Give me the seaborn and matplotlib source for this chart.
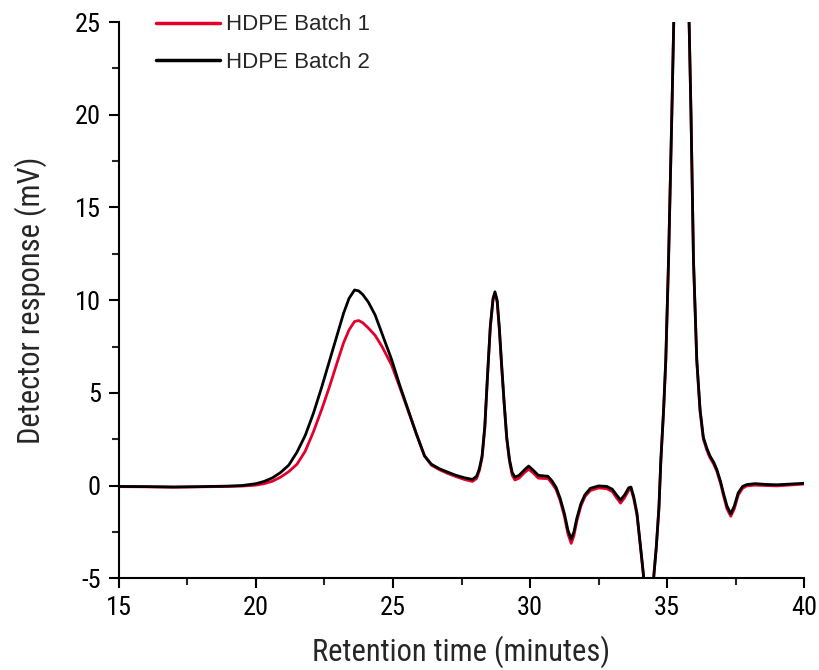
""" HDPE batch comparison chromatogram """

import numpy as np
import pandas as pd
import matplotlib
matplotlib.use("Agg")
import matplotlib.pyplot as plt
from matplotlib import font_manager
from matplotlib.ticker import MultipleLocator
import seaborn as sns

# retention time (minutes)
time_min = [
    15.0, 16.0, 17.0, 18.0, 19.0, 19.5, 20.0, 20.3, 20.6, 20.9,
    21.2, 21.5, 21.8, 22.1, 22.4, 22.7, 23.0, 23.2, 23.4, 23.6,
    23.75, 23.9, 24.1, 24.35, 24.6, 24.95, 25.25, 25.55, 25.85, 26.15,
    26.4, 26.7, 27.0, 27.3, 27.6, 27.9, 28.05, 28.15, 28.25, 28.35,
    28.45, 28.55, 28.65, 28.72, 28.8, 28.88, 28.96, 29.05, 29.15, 29.25,
    29.35, 29.45, 29.6, 29.8, 29.95, 30.1, 30.3, 30.5, 30.65, 30.8,
    30.95, 31.1, 31.25, 31.38, 31.5, 31.6, 31.7, 31.85, 32.0, 32.2,
    32.5, 32.8, 33.0, 33.15, 33.3, 33.45, 33.6, 33.68, 33.78, 33.9,
    34.0, 34.1, 34.2, 34.3, 34.4, 34.5, 34.6, 34.7, 34.77, 34.87,
    34.95, 35.05, 35.17, 35.24, 35.32, 35.45, 35.55, 35.68, 35.8, 35.87,
    35.96, 36.08, 36.2, 36.32, 36.45, 36.56, 36.7, 36.81, 36.95, 37.05,
    37.18, 37.32, 37.45, 37.59, 37.75, 37.9, 38.2, 38.6, 39.0, 39.5,
    40.0,
]

batch1 = [
    -0.06, -0.07, -0.09, -0.07, -0.05, -0.03, 0.02, 0.1, 0.23, 0.45,
    0.75, 1.15, 1.85, 2.9, 4.1, 5.4, 6.8, 7.7, 8.4, 8.85,
    8.9, 8.78, 8.5, 8.1, 7.5, 6.5, 5.3, 4.05, 2.8, 1.6,
    1.1, 0.85, 0.65, 0.48, 0.33, 0.22, 0.38, 0.8, 1.5, 3.1,
    5.9, 8.5, 10.0, 10.35, 9.9, 8.4, 6.5, 4.5, 2.5, 1.3,
    0.55, 0.3, 0.4, 0.7, 0.88, 0.7, 0.4, 0.38, 0.38, 0.12,
    -0.22, -0.82, -1.65, -2.6, -3.12, -2.7, -1.95, -1.12, -0.6, -0.27,
    -0.13, -0.17, -0.33, -0.65, -0.95, -0.65, -0.25, -0.18, -0.7, -1.6,
    -2.95, -4.35, -5.8, -6.6, -6.3, -5.1, -3.4, -1.2, 1.3, 4.0,
    6.7, 12.0, 20.0, 25.0, 30.0, 36.0, 36.0, 30.0, 25.0, 20.0,
    12.1, 6.7, 4.0, 2.5, 1.9, 1.5, 1.15, 0.78, 0.1, -0.52,
    -1.25, -1.66, -1.25, -0.52, -0.15, -0.02, 0.02, 0.0, -0.02, 0.03,
    0.08,
]

batch2 = [
    -0.05, -0.06, -0.08, -0.06, -0.03, 0.0, 0.1, 0.22, 0.41, 0.7,
    1.1, 1.8, 2.7, 3.9, 5.3, 6.8, 8.3, 9.3, 10.1, 10.55,
    10.5, 10.3, 9.9, 9.2, 8.2, 6.8, 5.4, 4.1, 2.8, 1.6,
    1.15, 0.9, 0.72, 0.55, 0.42, 0.33, 0.5, 0.9, 1.6, 3.2,
    6.0, 8.6, 10.1, 10.45, 10.0, 8.5, 6.6, 4.6, 2.6, 1.4,
    0.7, 0.45, 0.55, 0.85, 1.05, 0.85, 0.55, 0.52, 0.5, 0.25,
    -0.1, -0.7, -1.5, -2.4, -2.88, -2.5, -1.8, -1.0, -0.5, -0.15,
    -0.02, -0.05, -0.2, -0.5, -0.78, -0.5, -0.12, -0.08, -0.6, -1.5,
    -2.9, -4.3, -5.8, -6.6, -6.3, -5.1, -3.4, -1.2, 1.4, 4.1,
    6.8, 12.2, 20.0, 25.0, 30.0, 36.0, 36.0, 30.0, 25.0, 20.0,
    12.2, 6.8, 4.1, 2.6, 2.0, 1.6, 1.25, 0.87, 0.2, -0.4,
    -1.1, -1.52, -1.1, -0.4, -0.05, 0.05, 0.1, 0.06, 0.04, 0.08,
    0.12,
]

labels = ['HDPE Batch 1', 'HDPE Batch 2']
batch1_color = '#e4002b'
batch2_color = '#000000'

# look for a condensed face for the axes text
axis_family, axis_stretch = 'DejaVu Sans', 'normal'
for f in font_manager.fontManager.ttflist:
    if f.name in ('Liberation Sans Narrow', 'Roboto Condensed'):
        axis_family, axis_stretch = f.name, 'normal'
        break
else:
    for fam in ['Roboto', 'Noto Sans', 'Open Sans', 'DejaVu Sans']:
        faces = [f for f in font_manager.fontManager.ttflist
                 if f.name == fam and f.style == 'normal'
                 and str(f.stretch) in ('condensed', 'semi-condensed', 'extra-condensed')]
        if faces:
            axis_family, axis_stretch = fam, faces[0].stretch
            break

sns.set_style('ticks')
plt.rcParams['font.family'] = [axis_family, 'DejaVu Sans']
plt.rcParams['font.stretch'] = axis_stretch
plt.rcParams['axes.unicode_minus'] = False

df = pd.DataFrame({
    'time': time_min * 2,
    'response': batch1 + batch2,
    'batch': [labels[0]] * len(time_min) + [labels[1]] * len(time_min),
})

fig = plt.figure(figsize=(8.19, 6.70), dpi=100)
ax = fig.add_axes([0.145, 0.137, 0.837, 0.830])

sns.lineplot(data=df, x='time', y='response', hue='batch',
             palette=[batch1_color, batch2_color], sort=False,
             estimator=None, linewidth=2.0, ax=ax)

ax.set_xlim(15, 40)
ax.set_ylim(-5, 25)
ax.xaxis.set_major_locator(MultipleLocator(5))
ax.xaxis.set_minor_locator(MultipleLocator(2.5))
ax.yaxis.set_major_locator(MultipleLocator(5))
ax.yaxis.set_minor_locator(MultipleLocator(2.5))
ax.tick_params(which='major', direction='out', length=7, width=1.5,
               labelsize=19, colors='black', pad=6)
ax.tick_params(which='minor', direction='out', length=5, width=1.5)
for side in ['top', 'right']:
    ax.spines[side].set_visible(False)
for side in ['left', 'bottom']:
    ax.spines[side].set_linewidth(1.5)
    ax.spines[side].set_color('black')

ax.set_xlabel('Retention time (minutes)', fontsize=22, labelpad=11)
ax.set_ylabel('Detector response (mV)', fontsize=22, labelpad=20)

leg = ax.legend(loc='upper left', bbox_to_anchor=(0.025, 1.05), frameon=False,
                handlelength=2.9, handletextpad=0.25, labelspacing=0.75,
                prop={'family': ['Liberation Sans', 'DejaVu Sans'],
                      'stretch': 'normal', 'size': 16})
for line in leg.get_lines():
    line.set_linewidth(2.5)

fig.savefig('out.png', dpi=100)
